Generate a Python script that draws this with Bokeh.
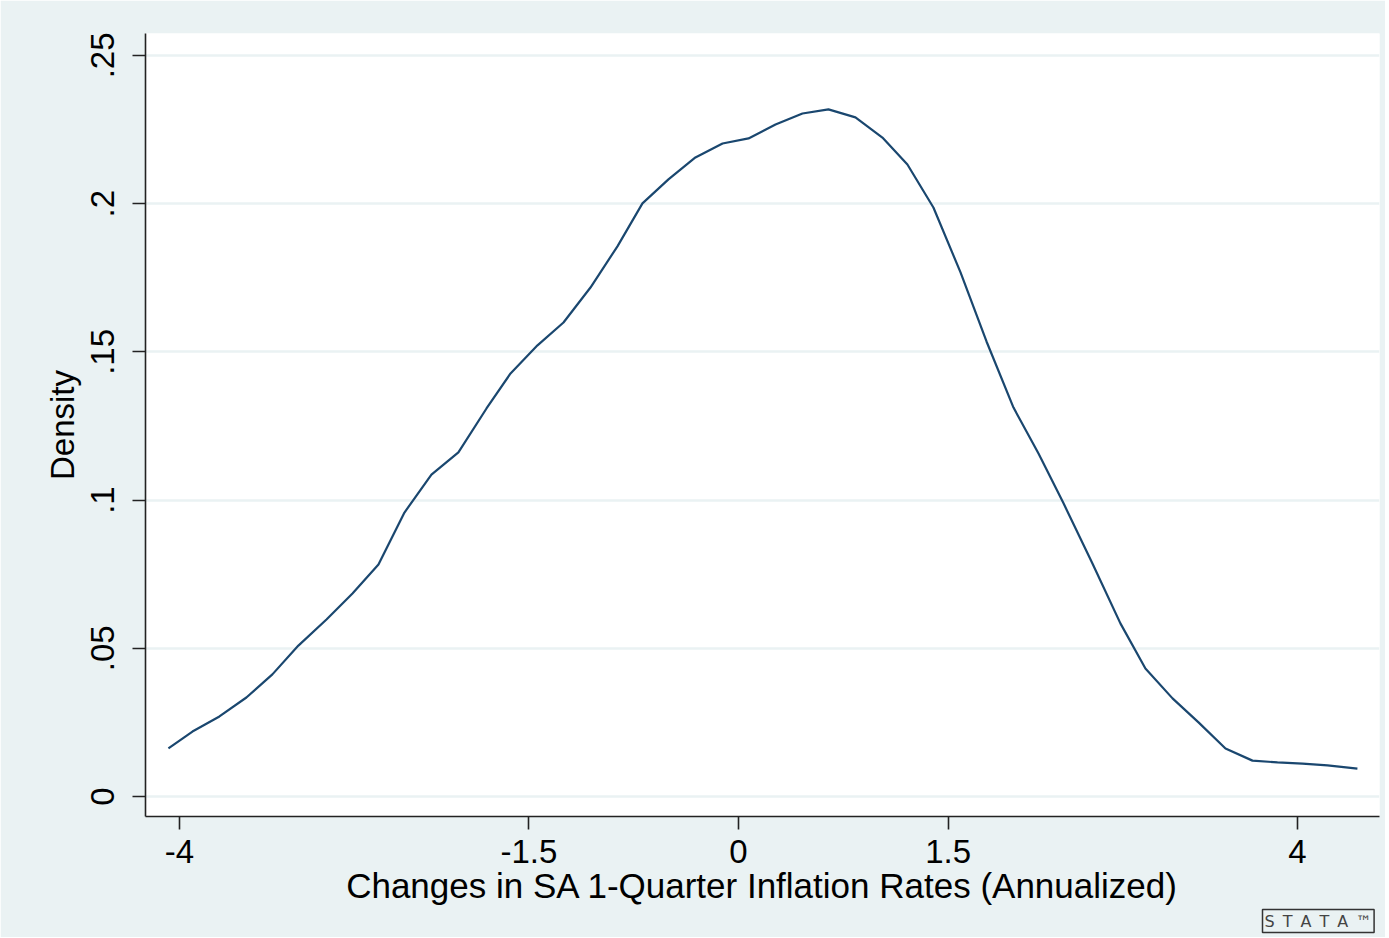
from bokeh.plotting import figure
from bokeh.models import Range1d, FixedTicker, Title
from bokeh.embed import file_html
from bokeh.resources import INLINE

# Kernel density estimate
x_vals = [-4.079, -3.907, -3.714, -3.521, -3.335, -3.149, -2.948, -2.762, -2.576, -2.390,
          -2.197, -2.004, -1.803, -1.631, -1.438, -1.252, -1.059, -0.866, -0.687, -0.501,
          -0.308, -0.114, 0.072, 0.265, 0.458, 0.644, 0.837, 1.030, 1.209, 1.395,
          1.589, 1.775, 1.968, 2.147, 2.326, 2.533, 2.733, 2.912, 3.106, 3.292,
          3.485, 3.678, 3.857, 4.036, 4.215, 4.429]
density = [0.0162, 0.0219, 0.0270, 0.0334, 0.0412, 0.0509, 0.0597, 0.0685, 0.0783, 0.0958,
           0.1086, 0.1161, 0.1309, 0.1427, 0.1522, 0.1599, 0.1717, 0.1856, 0.2001, 0.2082,
           0.2156, 0.2203, 0.2220, 0.2267, 0.2304, 0.2318, 0.2291, 0.2223, 0.2132, 0.1987,
           0.1768, 0.1535, 0.1312, 0.1157, 0.0989, 0.0786, 0.0584, 0.0432, 0.0331, 0.0250,
           0.0162, 0.0121, 0.0115, 0.0111, 0.0105, 0.0094]

x_ticks = [-4, -1.5, 0, 1.5, 4]
x_tick_labels = ["-4", "-1.5", "0", "1.5", "4"]
y_ticks = [0, 0.05, 0.1, 0.15, 0.2, 0.25]
y_tick_labels = ["0", ".05", ".1", ".15", ".2", ".25"]

x_title = "Changes in SA 1-Quarter Inflation Rates (Annualized)"
y_title = "Density"
logo_letters = ["S", "T", "A", "T", "A", "\u2122"]

BG = "#EAF2F3"
LINE = "#1A476F"
FONT = "Liberation Sans"

p = figure(width=1385, height=937, output_backend="svg", toolbar_location=None,
           x_range=Range1d(-4.243, 4.587), y_range=Range1d(-0.00675, 0.2574),
           min_border_left=145, min_border_right=6, min_border_top=33, min_border_bottom=121)

p.background_fill_color = "white"
p.border_fill_color = BG
p.outline_line_color = None

p.line(x_vals, density, line_color=LINE, line_width=2.2)

# axes
for ax in (p.xaxis[0], p.yaxis[0]):
    ax.axis_line_color = "#222222"
    ax.axis_line_width = 1.6
    ax.major_tick_line_color = "#222222"
    ax.major_tick_line_width = 1.6
    ax.major_tick_out = 13
    ax.major_tick_in = 0
    ax.minor_tick_line_color = None
    ax.major_label_text_font = FONT
    ax.major_label_text_font_size = "33px"
    ax.major_label_text_color = "#000000"
    ax.axis_label_text_font = FONT
    ax.axis_label_text_font_style = "normal"
    ax.axis_label_text_color = "#000000"

p.xaxis.ticker = FixedTicker(ticks=x_ticks)
p.xaxis.major_label_overrides = {t: l for t, l in zip(x_ticks, x_tick_labels)}
p.xaxis.axis_label = x_title
p.xaxis.axis_label_text_font_size = "35px"
p.xaxis.major_label_standoff = 10
p.xaxis.axis_label_standoff = 0

p.yaxis.ticker = FixedTicker(ticks=y_ticks)
p.yaxis.major_label_overrides = {t: l for t, l in zip(y_ticks, y_tick_labels)}
p.yaxis.major_label_orientation = "vertical"
p.yaxis.axis_label = y_title
p.yaxis.axis_label_text_font_size = "33px"
p.yaxis.major_label_standoff = 18
p.yaxis.axis_label_standoff = 8

p.xgrid.grid_line_color = None
p.ygrid.grid_line_color = BG
p.ygrid.grid_line_width = 2.5

# Stata logo at bottom right (lined, widely spaced letters)
logo = "\u2002".join(logo_letters)
p.add_layout(Title(text=logo, align="left", offset=1117, standoff=0,
                   text_font="DejaVu Sans", text_font_size="16px",
                   text_font_style="normal", text_color="#444444",
                   border_line_color="#333333", border_line_width=1.5,
                   padding=2), "below")

open("out.html", "w").write(file_html(p, INLINE))
